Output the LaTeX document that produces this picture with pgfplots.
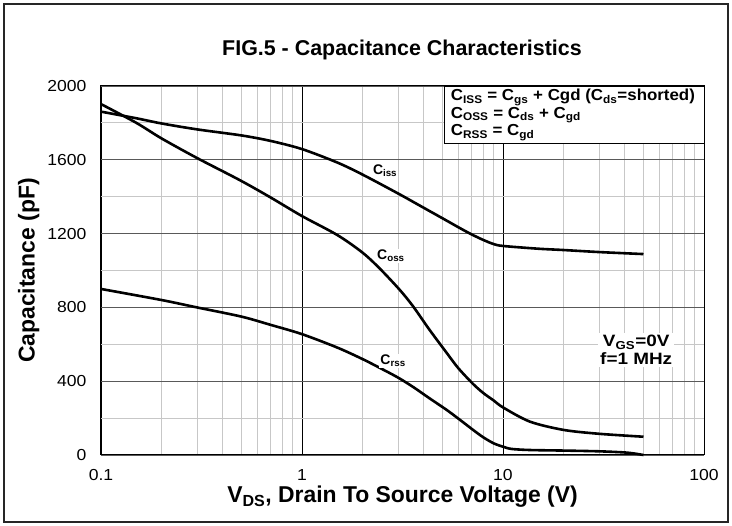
\documentclass[border=0pt]{standalone}
\usepackage{pgfplots}
\pgfplotsset{compat=1.18}
\usepackage{fontspec}
\setmainfont{Liberation Sans}
\begin{document}
\begin{tikzpicture}
\useasboundingbox (0,0) rectangle (732bp,526bp);
\draw[line width=1.6bp, black!85] (4bp,4bp) rectangle (728bp,522bp);
\node[font=\fontsize{21.5}{24}\bfseries\selectfont] at (402bp,476bp) {FIG.5 - Capacitance Characteristics};
\begin{axis}[
  at={(101bp,71bp)}, anchor=south west,
  scale only axis, width=603bp, height=369bp,
  xmode=log, xmin=0.1, xmax=100, ymin=0, ymax=2000,
  xtick={0.1,1,10,100}, xticklabels={0.1,1,10,100},
  ytick={0,400,800,1200,1600,2000},
  minor y tick num=1,
  grid=both,
  major x grid style={black, line width=0.8bp},
  minor x grid style={black!22, line width=0.8bp},
  major y grid style={black!65, line width=0.9bp},
  minor y grid style={black!22, line width=0.8bp},
  major tick length=0pt, minor tick length=0pt,
  axis line style={black, line width=1bp},
  /pgf/number format/assume math mode=true,
  tick label style={font=\fontsize{16}{18}\selectfont, xscale=1.1},
  yticklabel style={anchor=east, inner sep=0pt, xshift=-13bp, /pgf/number format/.cd, 1000 sep={}},
  xticklabel style={anchor=north, inner sep=0pt, yshift=-14bp},
  xlabel={V\textsubscript{DS}, Drain To Source Voltage (V)},
  ylabel={Capacitance (pF)},
  label style={font=\fontsize{23}{26}\bfseries\selectfont},
  xlabel style={at={(axis description cs:0.5,-0.114)}, anchor=center},
  ylabel style={at={(axis description cs:-0.12,0.5)}, anchor=center},
  clip=false,
]
\addplot[black, line width=2.6bp, smooth, tension=0.5] coordinates {
(0.1,1861) (0.15,1825) (0.2,1797) (0.3,1765) (0.5,1732) (0.7,1702) (1,1658)
(1.5,1585) (2,1520) (3,1418) (4,1342) (5,1283) (6.1,1230) (7,1195) (8,1165)
(9,1143) (10,1133) (15,1118) (20,1111) (30,1100) (50,1089)};
\addplot[black, line width=2.6bp, smooth, tension=0.5] coordinates {
(0.1,1902) (0.15,1800) (0.2,1716) (0.3,1610) (0.49,1490) (0.7,1395) (1,1295)
(1.5,1192) (2,1097) (2.44,1010) (3.07,894) (3.58,804) (4.3,680) (5.25,553)
(6,470) (7.1,385) (8,335) (9,295) (10,258) (13.6,181) (20,136) (30,115) (50,99)};
\addplot[black, line width=2.6bp, smooth, tension=0.5] coordinates {
(0.1,900) (0.2,840) (0.3,800) (0.5,750) (0.7,705) (1,655) (1.5,582) (2,520)
(2.44,472) (3,420) (3.58,368) (4.3,308) (5.25,244) (6,197) (7.1,136) (8,95)
(9,63) (10,45) (11,33) (13.6,27) (20,24) (30,20) (40,14) (45,8) (50,0)};
% curve labels
\node[fill=white, inner sep=1bp, font=\fontsize{14}{16}\bfseries\selectfont] at (axis cs:2.59,1539) {C\textsubscript{iss}};
\node[fill=white, inner sep=1bp, font=\fontsize{14}{16}\bfseries\selectfont] at (axis cs:2.77,1079) {C\textsubscript{oss}};
\node[fill=white, inner sep=1bp, font=\fontsize{14}{16}\bfseries\selectfont] at (axis cs:2.84,509) {C\textsubscript{rss}};
\node[fill=white, inner sep=2bp, align=center, xscale=1.15, font=\fontsize{16.5}{18}\bfseries\selectfont] at (axis cs:46,569) {V\textsubscript{GS}=0V\\f=1 MHz};
% definitions box
\filldraw[fill=white, draw=black, line width=0.8bp] (rel axis cs:0.569,0.8455) rectangle (rel axis cs:1,1);
\begin{scope}[every node/.style={anchor=west, inner sep=0pt, xscale=1.06, font=\fontsize{16}{18}\bfseries\selectfont}]
\node at (rel axis cs:0.58,0.969) {C\textsubscript{ISS} = C\textsubscript{gs} + Cgd (C\textsubscript{ds}=shorted)};
\node at (rel axis cs:0.58,0.921) {C\textsubscript{OSS} = C\textsubscript{ds} + C\textsubscript{gd}};
\node at (rel axis cs:0.58,0.873) {C\textsubscript{RSS} = C\textsubscript{gd}};
\end{scope}
\draw[black, line width=1bp] (rel axis cs:0,0) rectangle (rel axis cs:1,1);
\end{axis}
\end{tikzpicture}
\end{document}
